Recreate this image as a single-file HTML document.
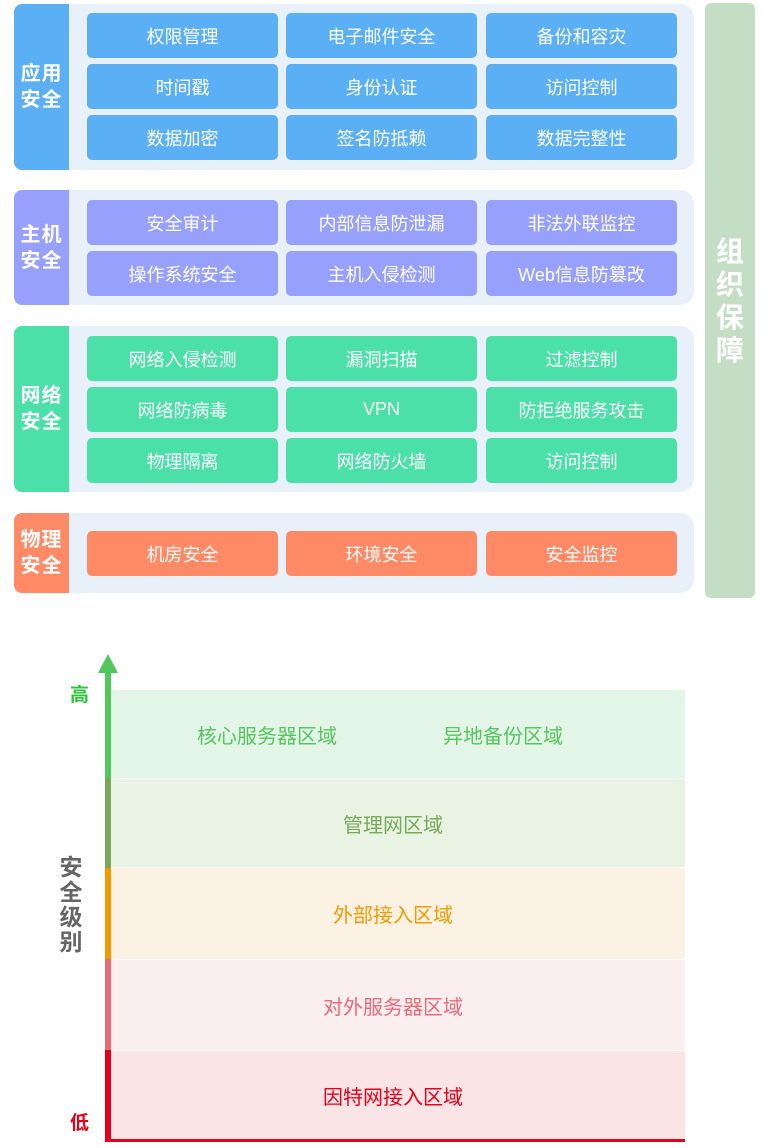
<!DOCTYPE html>
<html><head><meta charset="utf-8"><style>
*{margin:0;padding:0;box-sizing:border-box}
body{width:766px;height:1148px;background:#fff;position:relative;overflow:hidden;font-family:"Liberation Sans","Noto Sans CJK SC",sans-serif}
.sec{position:absolute;left:14px;width:680px;background:#e8f1f9;border-radius:8px 14px 14px 8px}
.lab{position:absolute;left:0;top:0;bottom:0;width:55px;border-radius:8px 0 0 8px;color:#fff;font-weight:bold;font-size:20px;line-height:26px;display:flex;align-items:center;justify-content:center;text-align:center;letter-spacing:1px}
.b{position:absolute;width:191px;height:45px;border-radius:5px;color:#fff;font-size:18px;display:flex;align-items:center;justify-content:center}
.org{position:absolute;left:705px;top:3px;width:50px;height:595px;background:#c4dec6;border-radius:6px;color:#fff;font-weight:bold;font-size:28px;line-height:33px;text-align:center;padding-top:232px}
.band{position:absolute;left:111px;width:574px;display:flex;align-items:center;justify-content:center;font-size:20px;padding-right:10px}
.ax{position:absolute;left:105px;width:6px}
</style></head><body>
<div class="sec" style="top:4px;height:166px"><div class="lab" style="background:#5aaff5">应用<br>安全</div></div>
<div class="sec" style="top:190px;height:115px"><div class="lab" style="background:#97a1fd">主机<br>安全</div></div>
<div class="sec" style="top:326px;height:166px"><div class="lab" style="background:#4be0a8">网络<br>安全</div></div>
<div class="sec" style="top:513px;height:80px"><div class="lab" style="background:#ff8a65">物理<br>安全</div></div>

<div class="b" style="left:87px;top:13px;background:#5aaff5">权限管理</div>
<div class="b" style="left:286px;top:13px;background:#5aaff5">电子邮件安全</div>
<div class="b" style="left:486px;top:13px;background:#5aaff5">备份和容灾</div>
<div class="b" style="left:87px;top:64px;background:#5aaff5">时间戳</div>
<div class="b" style="left:286px;top:64px;background:#5aaff5">身份认证</div>
<div class="b" style="left:486px;top:64px;background:#5aaff5">访问控制</div>
<div class="b" style="left:87px;top:115px;background:#5aaff5">数据加密</div>
<div class="b" style="left:286px;top:115px;background:#5aaff5">签名防抵赖</div>
<div class="b" style="left:486px;top:115px;background:#5aaff5">数据完整性</div>

<div class="b" style="left:87px;top:200px;background:#97a1fd">安全审计</div>
<div class="b" style="left:286px;top:200px;background:#97a1fd">内部信息防泄漏</div>
<div class="b" style="left:486px;top:200px;background:#97a1fd">非法外联监控</div>
<div class="b" style="left:87px;top:251px;background:#97a1fd">操作系统安全</div>
<div class="b" style="left:286px;top:251px;background:#97a1fd">主机入侵检测</div>
<div class="b" style="left:486px;top:251px;background:#97a1fd">Web信息防篡改</div>

<div class="b" style="left:87px;top:336px;background:#4be0a8">网络入侵检测</div>
<div class="b" style="left:286px;top:336px;background:#4be0a8">漏洞扫描</div>
<div class="b" style="left:486px;top:336px;background:#4be0a8">过滤控制</div>
<div class="b" style="left:87px;top:387px;background:#4be0a8">网络防病毒</div>
<div class="b" style="left:286px;top:387px;background:#4be0a8">VPN</div>
<div class="b" style="left:486px;top:387px;background:#4be0a8">防拒绝服务攻击</div>
<div class="b" style="left:87px;top:438px;background:#4be0a8">物理隔离</div>
<div class="b" style="left:286px;top:438px;background:#4be0a8">网络防火墙</div>
<div class="b" style="left:486px;top:438px;background:#4be0a8">访问控制</div>

<div class="b" style="left:87px;top:531px;background:#ff8a65">机房安全</div>
<div class="b" style="left:286px;top:531px;background:#ff8a65">环境安全</div>
<div class="b" style="left:486px;top:531px;background:#ff8a65">安全监控</div>

<div class="org">组<br>织<br>保<br>障</div>

<div class="band" style="top:690px;height:88px;background:#e3f5e6;color:#56c55f"><span style="position:absolute;left:86px">核心服务器区域</span><span style="position:absolute;left:332px">异地备份区域</span></div>
<div class="band" style="top:779px;height:88px;background:#e8f3e3;color:#7aa85a">管理网区域</div>
<div class="band" style="top:868px;height:91px;background:#fcf2e4;color:#f39a00">外部接入区域</div>
<div class="band" style="top:960px;height:90px;background:#fbeeef;color:#e86b78">对外服务器区域</div>
<div class="band" style="top:1051px;height:88px;background:#fae4e5;color:#e2001a">因特网接入区域</div>
<div style="position:absolute;left:105px;top:1139px;width:580px;height:3px;background:#e2001a"></div>

<div class="ax" style="top:672px;height:106px;background:#52c75a"></div>
<div class="ax" style="top:778px;height:90px;background:#7aa85a"></div>
<div class="ax" style="top:868px;height:91px;background:#f39a00"></div>
<div class="ax" style="top:959px;height:91px;background:#e86b78"></div>
<div class="ax" style="top:1050px;height:92px;background:#e2001a"></div>
<div style="position:absolute;left:98px;top:654px;width:0;height:0;border-left:10px solid transparent;border-right:10px solid transparent;border-bottom:19px solid #52c75a"></div>

<div style="position:absolute;left:70px;top:680px;font-size:19px;font-weight:bold;color:#2ec23a">高</div>
<div style="position:absolute;left:70px;top:1108px;font-size:19px;font-weight:bold;color:#e2001a">低</div>
<div style="position:absolute;left:58px;top:855px;width:26px;font-size:23px;line-height:25px;font-weight:bold;color:#666;text-align:center">安<br>全<br>级<br>别</div>
</body></html>
